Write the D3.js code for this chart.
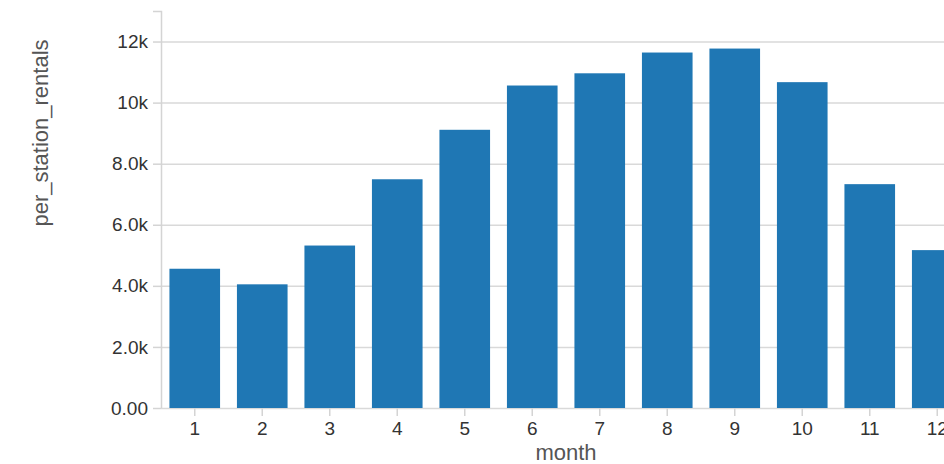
<!DOCTYPE html>
<html>
<head>
<meta charset="utf-8">
<script src="https://cdn.jsdelivr.net/npm/d3@7"></script>
<style>
  html, body { margin: 0; padding: 0; background: #fff; overflow: hidden; }
  svg { display: block; }
  text { font-family: "Liberation Sans", Arial, sans-serif; }
</style>
</head>
<body>
<script>
const months = [1, 2, 3, 4, 5, 6, 7, 8, 9, 10, 11, 12];
const perStationRentals = [4560, 4050, 5320, 7490, 9110, 10560, 10960, 11640, 11770, 10670, 7330, 5170];
const yTickValues = [0, 2000, 4000, 6000, 8000, 10000, 12000];
const yTickLabels = ["0.00", "2.0k", "4.0k", "6.0k", "8.0k", "10k", "12k"];
const yDomainMax = 13000;

const W = 944, H = 464;
const plotLeft = 161, plotRight = 971, plotTop = 11, plotBottom = 408;

const svg = d3.select("body").append("svg").attr("width", W).attr("height", H);

const x = d3.scaleBand().domain(months).range([plotLeft, plotRight]).paddingInner(0.25).paddingOuter(0.125);
const y = d3.scaleLinear().domain([0, yDomainMax]).range([plotBottom, plotTop]);

// gridlines
svg.append("g").selectAll("line").data(yTickValues).join("line")
  .attr("x1", plotLeft).attr("x2", W)
  .attr("y1", d => y(d) + 0.5).attr("y2", d => y(d) + 0.5)
  .attr("stroke", "#d9d9d9").attr("stroke-width", 1.5);

// bars
svg.append("g").selectAll("rect").data(months).join("rect")
  .attr("x", d => x(d))
  .attr("width", x.bandwidth())
  .attr("y", (d, i) => y(perStationRentals[i]))
  .attr("height", (d, i) => plotBottom - y(perStationRentals[i]))
  .attr("fill", "#1f77b4");

// y axis
const yAxis = d3.axisLeft(y).tickValues(yTickValues)
  .tickFormat((d, i) => yTickLabels[i]).tickSize(8).tickPadding(5);
const gy = svg.append("g").attr("transform", `translate(${plotLeft},0)`).call(yAxis);
gy.select(".domain").attr("stroke", "#d4d4d4").attr("stroke-width", 1.5)
  .attr("d", `M-8,${plotTop}.5H0.5V${plotBottom}`);
gy.selectAll(".tick line").attr("stroke", "#d4d4d4").attr("stroke-width", 1.5);
gy.selectAll(".tick text").attr("fill", "#333").attr("font-size", 19)
  .attr("font-family", "Liberation Sans, Arial, sans-serif");

// x axis
const xAxis = d3.axisBottom(x).tickSize(8).tickPadding(6);
const gx = svg.append("g").attr("transform", `translate(0,${plotBottom})`).call(xAxis);
gx.select(".domain").remove();
gx.selectAll(".tick line").attr("stroke", "#d4d4d4").attr("stroke-width", 1.5);
gx.selectAll(".tick text").attr("fill", "#333").attr("font-size", 19)
  .attr("font-family", "Liberation Sans, Arial, sans-serif");

// axis titles
svg.append("text")
  .attr("x", (plotLeft + plotRight) / 2).attr("y", 460)
  .attr("text-anchor", "middle")
  .attr("font-size", 22).attr("fill", "#555")
  .text("month");

svg.append("text")
  .attr("transform", "translate(48,133) rotate(-90)")
  .attr("text-anchor", "middle")
  .attr("font-size", 22).attr("fill", "#555")
  .text("per_station_rentals");
</script>
</body>
</html>
